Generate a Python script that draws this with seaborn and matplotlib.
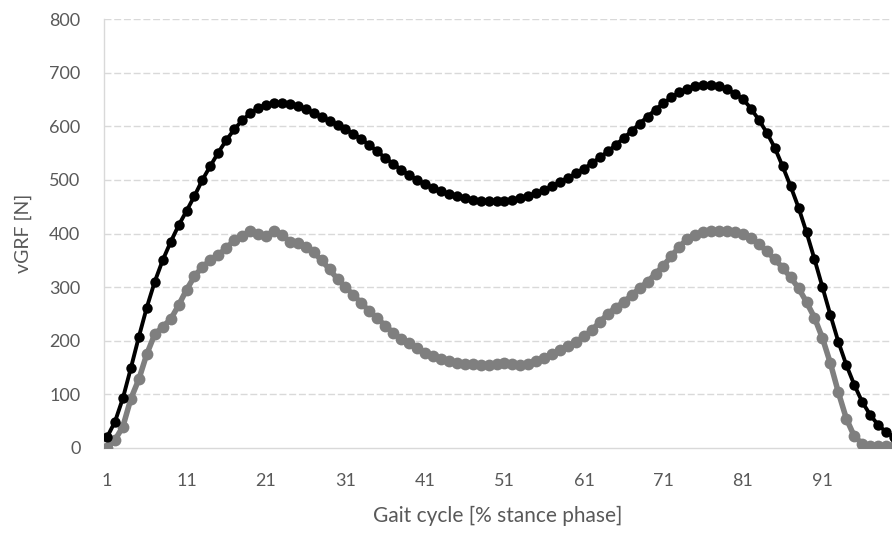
import numpy as np
import pandas as pd
import matplotlib
matplotlib.use("Agg")
import matplotlib.pyplot as plt
import seaborn as sns

# % of stance phase (Excel category axis 1..101)
stance = list(range(1, 102))

# vGRF, black curve [N]
vgrf_black = [
    20, 49, 93, 149, 207, 262, 310, 350, 384, 415,
    442, 470, 500, 526, 551, 574, 594, 611, 624, 634,
    640, 643, 644, 642, 638, 632, 625, 617, 610, 603,
    595, 586, 576, 565, 553, 541, 530, 519, 509, 500,
    492, 485, 479, 474, 470, 466, 463, 461, 460, 460,
    461, 463, 466, 470, 475, 481, 488, 496, 504, 512,
    521, 531, 542, 553, 565, 578, 591, 605, 618, 631,
    643, 654, 663, 670, 675, 677, 677, 675, 669, 661,
    651, 633, 612, 588, 560, 525, 488, 448, 402, 352,
    300, 248, 198, 155, 118, 86, 62, 43, 30, 20,
    12,
]

# vGRF, gray curve [N]
vgrf_gray = [
    0, 15, 40, 92, 128, 175, 212, 226, 240, 266,
    295, 320, 338, 350, 360, 373, 387, 395, 405, 400,
    395, 405, 397, 385, 382, 375, 365, 350, 333, 315,
    300, 285, 270, 255, 242, 228, 215, 204, 195, 186,
    178, 171, 166, 162, 159, 157, 156, 155, 155, 156,
    158, 157, 155, 157, 162, 168, 175, 182, 190, 198,
    208, 220, 235, 250, 262, 272, 285, 298, 310, 325,
    340, 358, 375, 390, 398, 402, 404, 404, 404, 402,
    400, 392, 380, 367, 352, 336, 318, 298, 272, 243,
    205, 158, 104, 55, 22, 8, 4, 3, 3, 3,
    2,
]

y_ticks = [0, 100, 200, 300, 400, 500, 600, 700, 800]
x_ticks = [1, 11, 21, 31, 41, 51, 61, 71, 81, 91]

sns.set_style("white")
plt.rcParams['font.family'] = ['Lato', 'DejaVu Sans']

df = pd.DataFrame({'stance': stance, 'black': vgrf_black, 'gray': vgrf_gray})

fig = plt.figure(figsize=(8.92, 5.33), dpi=100)
ax = fig.add_axes([104 / 892, 1 - 448 / 533, 1 - 104 / 892, (448 - 19) / 533])

sns.lineplot(data=df, x='stance', y='gray', ax=ax, color='#7f7f7f',
             linewidth=4, marker='o', markersize=8.5, markeredgewidth=0,
             zorder=3)
sns.lineplot(data=df, x='stance', y='black', ax=ax, color='black',
             linewidth=2.8, marker='o', markersize=7.5, markeredgewidth=0,
             zorder=4)

ax.set_xlim(0.62, 99.75)
ax.set_ylim(0, 800)
ax.set_yticks(y_ticks)
ax.set_xticks(x_ticks)

# dashed light-gray horizontal gridlines
for v in y_ticks[1:]:
    ax.axhline(v, color='#d9d9d9', linewidth=1, linestyle=(0, (5, 2)), zorder=1)

for side in ['top', 'right']:
    ax.spines[side].set_visible(False)
ax.spines['left'].set_color('#d9d9d9')
ax.spines['bottom'].set_color('#d9d9d9')
ax.spines['left'].set_linewidth(1)
ax.spines['bottom'].set_linewidth(1)

ax.tick_params(axis='both', length=0, labelsize=13, colors='#595959')
ax.yaxis.set_tick_params(pad=17)
ax.xaxis.set_tick_params(pad=18)

ax.set_xlabel('Gait cycle [% stance phase]', fontsize=15, color='#595959', labelpad=12)
ax.set_ylabel('vGRF [N]', fontsize=14, color='#595959', labelpad=12)

fig.savefig('out.png', dpi=100)
